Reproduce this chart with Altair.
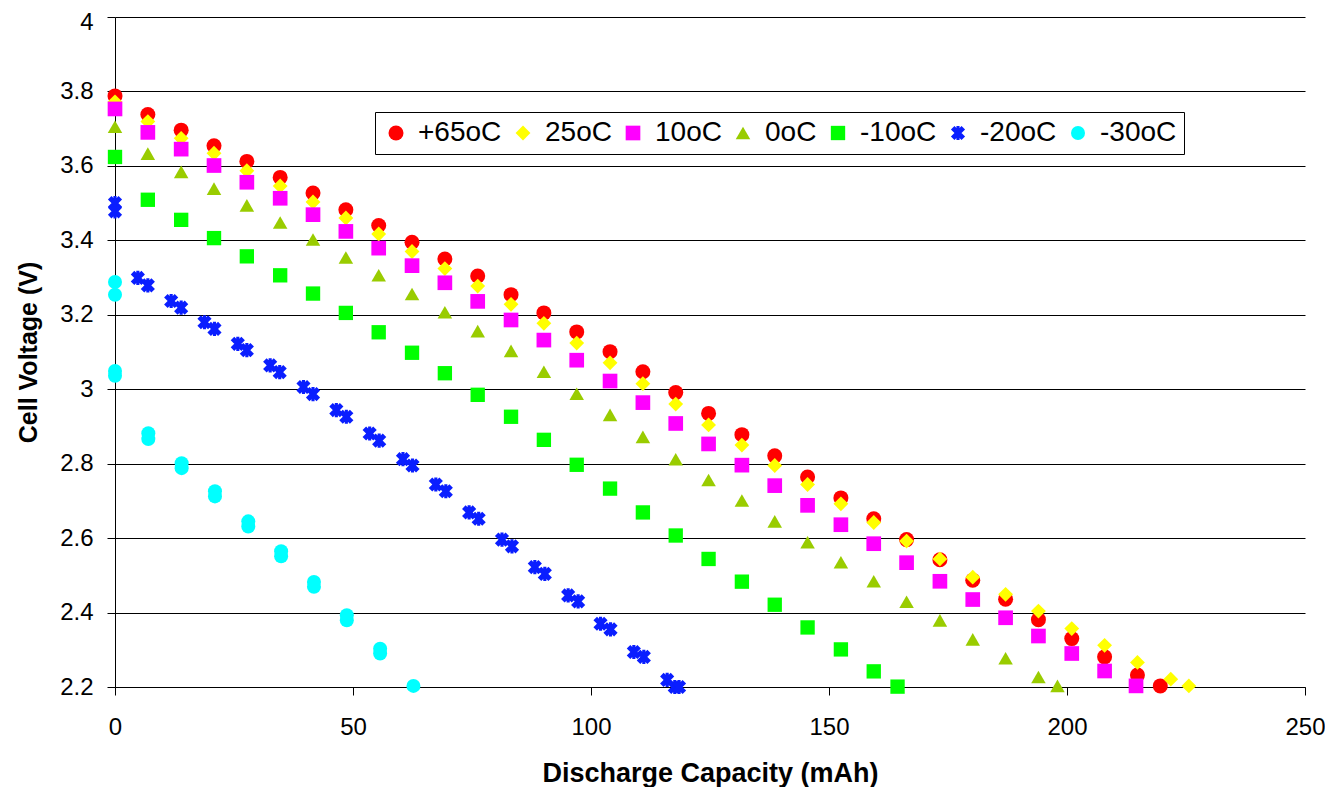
import altair as alt
import pandas as pd

SERIES = ["+65oC", "25oC", "10oC", "0oC", "-10oC", "-20oC", "-30oC"]
COLORS = ["#FF0000", "#FFFF00", "#FF00FF", "#99CC00", "#00FF00", "#0A1EFF", "#00FFFF"]
STAR = ("M-1,-0.5L-0.5,-1L1,0.5L0.5,1Z"
        "M0.5,-1L1,-0.5L-0.5,1L-1,0.5Z"
        "M-0.22,-1L0.22,-1L0.22,1L-0.22,1Z")
SHAPES = ["circle", "diamond", "square", "triangle-up", "square", STAR, "circle"]
SIZES = [225, 196, 169, 196, 144, 169, 144]

# capacity grid (mAh)
GRID = [0, 6.9, 13.9, 20.8, 27.7, 34.7, 41.6, 48.5, 55.4, 62.4, 69.3, 76.2, 83.2,
        90.1, 97.0, 104.0, 110.9, 117.8, 124.7, 131.7, 138.6, 145.5, 152.5, 159.4,
        166.3, 173.3, 180.2, 187.1, 194.0, 201.0, 207.9, 214.8, 221.8]

X_65 = GRID[:32] + [219.6]
V_65 = [3.788, 3.738, 3.696, 3.654, 3.612, 3.569, 3.527, 3.482, 3.440, 3.395, 3.350,
        3.304, 3.254, 3.205, 3.154, 3.101, 3.047, 2.991, 2.935, 2.878, 2.821, 2.764,
        2.708, 2.652, 2.596, 2.542, 2.487, 2.436, 2.381, 2.330, 2.281, 2.232, 2.203]

X_25 = GRID[:33] + [225.6]
V_25 = [3.772, 3.719, 3.674, 3.634, 3.587, 3.546, 3.503, 3.460, 3.417, 3.370, 3.324,
        3.277, 3.228, 3.177, 3.124, 3.071, 3.015, 2.960, 2.904, 2.850, 2.795, 2.744,
        2.692, 2.642, 2.592, 2.544, 2.495, 2.449, 2.404, 2.357, 2.312, 2.266, 2.221, 2.203]

X_10 = GRID[:31] + [214.5]
V_10 = [3.753, 3.690, 3.645, 3.601, 3.556, 3.513, 3.469, 3.424, 3.379, 3.332, 3.286,
        3.236, 3.186, 3.132, 3.078, 3.022, 2.964, 2.908, 2.853, 2.796, 2.741, 2.688,
        2.636, 2.585, 2.534, 2.484, 2.435, 2.386, 2.337, 2.290, 2.243, 2.203]

X_0 = GRID[:29] + [198.0]
V_0 = [3.705, 3.633, 3.584, 3.539, 3.494, 3.448, 3.402, 3.354, 3.306, 3.256, 3.207,
       3.156, 3.103, 3.047, 2.988, 2.931, 2.872, 2.812, 2.756, 2.701, 2.645, 2.589,
       2.535, 2.484, 2.429, 2.379, 2.328, 2.277, 2.227, 2.203]

X_M10 = GRID[:24] + [164.4]
V_M10 = [3.624, 3.509, 3.455, 3.406, 3.357, 3.306, 3.257, 3.205, 3.153, 3.098, 3.043,
         2.985, 2.926, 2.864, 2.797, 2.733, 2.669, 2.607, 2.544, 2.483, 2.421, 2.360,
         2.301, 2.242, 2.201]

X_M20 = [0, 0, 4.8, 6.9, 11.8, 13.9, 18.8, 20.9, 25.8, 27.7, 32.6, 34.6, 39.6, 41.6,
         46.5, 48.6, 53.5, 55.5, 60.5, 62.5, 67.4, 69.5, 74.4, 76.4, 81.3, 83.4, 88.2,
         90.3, 95.2, 97.3, 102.0, 104.1, 109.0, 111.1, 116.0, 117.6, 118.5]
V_M20 = [3.500, 3.478, 3.299, 3.279, 3.237, 3.219, 3.180, 3.162, 3.122, 3.105, 3.064,
         3.046, 3.006, 2.987, 2.944, 2.926, 2.881, 2.862, 2.812, 2.795, 2.744, 2.726,
         2.669, 2.652, 2.596, 2.578, 2.522, 2.504, 2.446, 2.430, 2.370, 2.355, 2.294,
         2.281, 2.219, 2.200, 2.200]

X_M30 = [0, 0, 0, 0, 7.0, 7.0, 14.0, 14.0, 21.0, 21.0, 28.0, 28.0, 34.9, 34.9,
         41.8, 41.8, 48.7, 48.7, 55.7, 55.7, 62.7]
V_M30 = [3.288, 3.254, 3.049, 3.036, 2.882, 2.866, 2.801, 2.788, 2.726, 2.712, 2.645,
         2.631, 2.565, 2.551, 2.482, 2.469, 2.393, 2.379, 2.303, 2.290, 2.203]

X_TICKS = [0, 50, 100, 150, 200, 250]
Y_TICKS = [2.2, 2.4, 2.6, 2.8, 3.0, 3.2, 3.4, 3.6, 3.8, 4.0]

rows = []
for name, xs, vs in zip(SERIES, [X_65, X_25, X_10, X_0, X_M10, X_M20, X_M30],
                        [V_65, V_25, V_10, V_0, V_M10, V_M20, V_M30]):
    for x, v in zip(xs, vs):
        rows.append({"series": name, "cap": x, "volt": v})
df = pd.DataFrame(rows)

FONT = "Liberation Sans"

chart = alt.Chart(df).mark_point(filled=True, opacity=1, strokeWidth=0).encode(
    x=alt.X("cap:Q", scale=alt.Scale(domain=[0, 250], nice=False, zero=False),
            axis=alt.Axis(title="Discharge Capacity (mAh)", values=X_TICKS, grid=False,
                          labelFontSize=24, labelPadding=20, tickSize=8, labelFlush=False,
                          titleFontSize=27, titleFontWeight="bold",
                          titleX=595, titleY=86, titleBaseline="middle")),
    y=alt.Y("volt:Q", scale=alt.Scale(domain=[2.2, 4.0], nice=False, zero=False),
            axis=alt.Axis(title="Cell Voltage (V)", values=Y_TICKS, format="~g",
                          grid=True, gridColor="#000000", gridOpacity=1, gridWidth=1,
                          labelFontSize=24, labelPadding=14, tickSize=8, labelFlush=False,
                          labelOffset={"condition": {"test": "datum.value >= 3.99", "value": 5},
                                       "value": 0},
                          titleFontSize=25, titleFontWeight="bold",
                          titleX=-87, titleY=335, titleAngle=-90,
                          titleAlign="center", titleBaseline="middle")),
    color=alt.Color("series:N", scale=alt.Scale(domain=SERIES, range=COLORS),
                    legend=alt.Legend(title=None, orient="none", legendX=260, legendY=95,
                                      direction="horizontal", columns=7,
                                      labelFontSize=28, labelFont=FONT, labelColor="#000000",
                                      symbolSize=150, symbolStrokeWidth=0,
                                      labelOffset=8, columnPadding=7, padding=7,
                                      strokeColor="#000000", fillColor="#FFFFFF",
                                      labelLimit=200)),
    shape=alt.Shape("series:N", scale=alt.Scale(domain=SERIES, range=SHAPES)),
    size=alt.Size("series:N", scale=alt.Scale(domain=SERIES, range=SIZES), legend=None),
).properties(
    width=1190, height=670,
    padding={"left": 107, "top": 9, "right": 20, "bottom": 100},
    autosize=alt.AutoSizeParams(type="none"),
    background="#FFFFFF",
).configure_view(stroke=None).configure_axis(
    labelFont=FONT, titleFont=FONT, labelColor="#000000", titleColor="#000000",
    domainColor="#000000", tickColor="#000000", domainWidth=1, tickWidth=1,
)

chart.save("out.html", embed_options={"renderer": "svg", "actions": False})
